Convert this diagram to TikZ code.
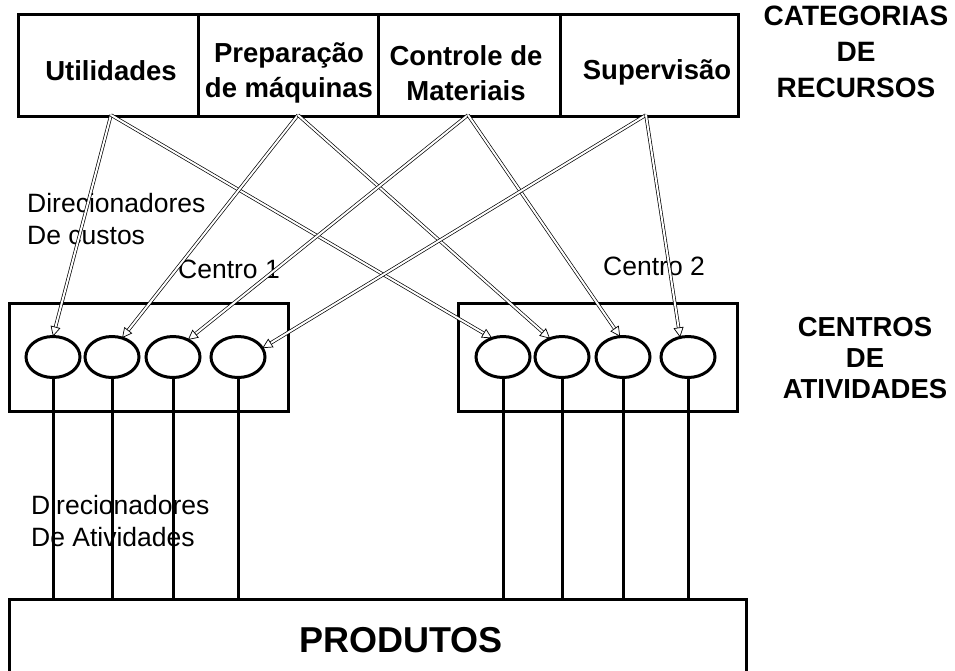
\documentclass[tikz,border=0pt]{standalone}
\usepackage{fontspec}
\setmainfont{Liberation Sans}
\usetikzlibrary{arrows.meta, positioning, calc, shapes.geometric}

\begin{document}
\begin{tikzpicture}[x=1pt, y=-1pt, node distance=0pt,
  cell/.style={draw, line width=3pt, outer sep=0pt, inner sep=0pt, minimum width=180pt, minimum height=102pt},
  cat/.style={font=\fontsize{27.5}{35}\selectfont\bfseries, align=center, inner sep=0pt},
  head/.style={font=\fontsize{28}{36}\selectfont\bfseries, align=center, inner sep=0pt},
  ctr/.style={draw, line width=3pt, inner sep=0pt, minimum width=279pt, minimum height=108pt},
  act/.style={draw, ellipse, line width=3pt, inner sep=0pt, outer sep=0pt, minimum width=54pt, minimum height=41pt},
  lbl/.style={font=\fontsize{26.5}{32}\selectfont, align=left, inner sep=0pt},
  drv/.style={double, double distance=2pt, line width=0.7pt, -{Triangle[open, length=10pt, width=10pt]}},
  lnk/.style={line width=3pt}]
\useasboundingbox (0,0) rectangle (955,670);
% categorias de recursos
\node[cell] (U) at (108.3,65.5) {};
\node[cell, right=of U] (P) {};
\node[cell, right=of P, minimum width=182pt] (M) {};
\node[cell, right=of M, minimum width=178.5pt] (S) {};
\node[cat] (ut) at (111,71) {Utilidades};
\node[cat] (pm) at (289,73) {Preparação\\de máquinas};
\node[cat] (cm) at (466,73) {Controle de\\Materiais};
\node[cat] (sv) at (657,72) {Supervisão};
\node[head] (rec) at (856,52) {CATEGORIAS\\DE\\RECURSOS};
\coordinate (sU) at (111,115);
\coordinate (sP) at (298,115);
\coordinate (sM) at (468,115);
\coordinate (sS) at (646,115);
% centros de atividades
\node[ctr] (C1) at (148.5,357.5) {};
\node[ctr] (C2) at (598,357.5) {};
\node[act] (a1) at (53,357) {};
\node[act] (a2) at (112,357) {};
\node[act] (a3) at (173,357) {};
\node[act] (a4) at (238,357) {};
\node[act] (b1) at (503,357) {};
\node[act] (b2) at (562,357) {};
\node[act] (b3) at (623,357) {};
\node[act] (b4) at (688,357) {};
\node[lbl, anchor=base west] (n1) at (178,278) {Centro 1};
\node[lbl, anchor=base west] (n2) at (603,275) {Centro 2};
\node[head, font=\fontsize{27.5}{31}\selectfont\bfseries] (atv) at (865,358) {CENTROS\\DE\\ATIVIDADES};
% produtos
\node[draw, line width=3pt, inner sep=0pt, minimum width=737pt, minimum height=100pt] (prod) at (378,649.5) {};
\node[font=\fontsize{36}{40}\selectfont\bfseries, inner sep=0pt] (pt) at (401,640) {PRODUTOS};
% direcionadores
\node[lbl, anchor=north west] (dc) at (27,193) {Direcionadores\\De custos};
\node[lbl, anchor=north west] (da) at (31,495) {Direcionadores\\De Atividades};
\draw[drv] (sU) -- (a1.90);
\draw[drv] (sU) -- (b1.120);
\draw[drv] (sP) -- (a2.62);
\draw[drv] (sP) -- (b2.123);
\draw[drv] (sM) -- (a3.49);
\draw[drv] (sM) -- (b3.98);
\draw[drv] (sS) -- (a4.20);
\draw[drv] (sS) -- (b4.112);
\draw[lnk] (a1.south) -- (a1.south |- prod.north);
\draw[lnk] (a2.south) -- (a2.south |- prod.north);
\draw[lnk] (a3.south) -- (a3.south |- prod.north);
\draw[lnk] (a4.south) -- (a4.south |- prod.north);
\draw[lnk] (b1.south) -- (b1.south |- prod.north);
\draw[lnk] (b2.south) -- (b2.south |- prod.north);
\draw[lnk] (b3.south) -- (b3.south |- prod.north);
\draw[lnk] (b4.south) -- (b4.south |- prod.north);
\end{tikzpicture}
\end{document}
